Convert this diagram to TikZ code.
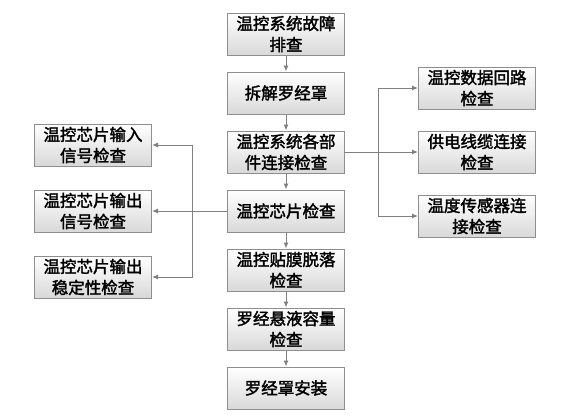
\documentclass[tikz,border=0pt]{standalone}
\usepackage{fontspec}
\setmainfont{Noto Sans CJK SC}[FakeBold=2]
\usetikzlibrary{arrows.meta,positioning}
\definecolor{lnGray}{HTML}{808080}
\definecolor{bxGray}{HTML}{8E8E8E}

\begin{document}
\begin{tikzpicture}[x=1pt,y=1pt,node distance=16pt,font=\fontsize{16.5}{21}\selectfont]
  \tikzstyle{box}=[draw=bxGray,line width=1pt,top color=white,bottom color=gray!30,minimum width=117pt,minimum height=42pt,inner sep=1pt,align=center]
  \tikzstyle{link}=[-{Latex[length=6pt,width=5pt]},lnGray,line width=1pt]
  \useasboundingbox (0,0) rectangle (566,-416);
  % main column
  \node[box] (fault) at (286,-34) {温控系统故障\\排查};
  \node[box,below=of fault] (cover) {拆解罗经罩};
  \node[box,below=of cover] (parts) {温控系统各部\\件连接检查};
  \node[box,below=of parts] (chip) {温控芯片检查};
  \node[box,below=of chip] (film) {温控贴膜脱落\\检查};
  \node[box,below=of film] (liquid) {罗经悬液容量\\检查};
  \node[box,below=of liquid] (mount) {罗经罩安装};
  % left branch
  \node[box,left=75pt of chip] (chipOut) {温控芯片输出\\信号检查};
  \node[box,above=23pt of chipOut] (chipIn) {温控芯片输入\\信号检查};
  \node[box,below=23pt of chipOut] (chipStab) {温控芯片输出\\稳定性检查};
  % right branch
  \node[box,right=73pt of parts] (cable) {供电线缆连接\\检查};
  \node[box,above=21pt of cable] (loop) {温控数据回路\\检查};
  \node[box,below=21pt of cable] (sensor) {温度传感器连\\接检查};
  % main arrows
  \draw[link] (fault) -- (cover);
  \draw[link] (cover) -- (parts);
  \draw[link] (parts) -- (chip);
  \draw[link] (chip) -- (film);
  \draw[link] (film) -- (liquid);
  \draw[link] (liquid) -- (mount);
  % left rail
  \draw[link] (chip.west) -- (chipOut.east);
  \draw[link] (chip.west) -- ++(-35,0) |- (chipIn.east);
  \draw[link] (chip.west) -- ++(-35,0) |- (chipStab.east);
  % right rail
  \draw[link] (parts.east) -- (cable.west);
  \draw[link] (parts.east) -- ++(33,0) |- (loop.west);
  \draw[link] (parts.east) -- ++(33,0) |- (sensor.west);
\end{tikzpicture}
\end{document}
